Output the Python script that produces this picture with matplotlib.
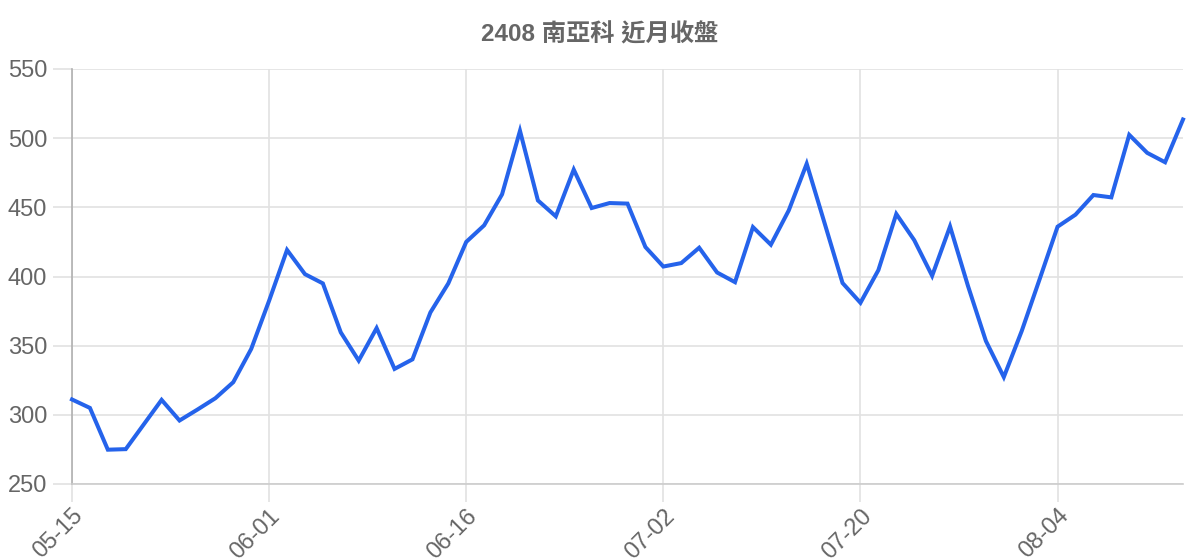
import matplotlib
matplotlib.use("Agg")
import matplotlib.pyplot as plt

title = "2408 南亞科 近月收盤"
closes = [311.1, 305.0, 274.8, 275.2, 293.0, 310.8, 295.9, 303.8, 312.0, 323.6,
          347.6, 382.5, 419.2, 401.7, 395.0, 359.6, 339.2, 362.7, 333.2, 340.1,
          374.0, 395.0, 425.0, 437.0, 459.4, 505.3, 455.0, 443.5, 477.3, 449.5,
          453.1, 452.7, 421.3, 407.2, 409.7, 420.8, 402.9, 395.9, 435.7, 423.0,
          447.8, 481.5, 438.5, 395.3, 381.0, 404.6, 445.2, 426.3, 400.5, 436.2,
          393.2, 353.4, 327.3, 360.6, 398.1, 436.0, 444.7, 458.9, 457.2, 502.4,
          489.4, 482.6, 513.5]
tick_labels = ["05-15", "06-01", "06-16", "07-02", "07-20", "08-04"]
tick_step = 11
y_ticks = [250, 300, 350, 400, 450, 500, 550]

fam = ["Liberation Sans", "Noto Sans CJK TC", "DejaVu Sans"]
plt.rcParams["font.family"] = fam

fig = plt.figure(figsize=(12, 5.6), dpi=100)
ax = fig.add_axes([72/1200, 1 - 484/560, (1183-72)/1200, (484-69)/560])

x = list(range(len(closes)))
ax.plot(x, closes, color="#2563EB", lw=2.9, solid_joinstyle="miter", clip_on=False, zorder=3)

ax.set_xlim(0, len(closes) - 1)
ax.set_ylim(y_ticks[0], y_ticks[-1])
ax.set_yticks(y_ticks)
ax.set_xticks(list(range(0, len(closes), tick_step))[:len(tick_labels)])
ax.set_xticklabels(tick_labels, rotation=45, ha="right", va="top", rotation_mode="anchor")

ax.grid(True, color="#e2e2e2", lw=1.2)
ax.tick_params(axis="y", length=14, color="#e2e2e2", width=1.2, pad=4,
               labelsize=17, labelcolor="#666666")
ax.tick_params(axis="x", length=13, color="#e2e2e2", width=1.2, pad=2,
               labelsize=17, labelcolor="#666666")
for s in ("top", "right"):
    ax.spines[s].set_visible(False)
ax.spines["left"].set_color("#b0b0b0")
ax.spines["left"].set_linewidth(1.2)
ax.spines["bottom"].set_color("#cccccc")
ax.spines["bottom"].set_linewidth(1.2)

fig.text(600/1200, 1 - 35/560, title, ha="center", va="center", fontsize=17.5,
         fontweight="bold", color="#666666", family=fam)

fig.savefig("out.png", dpi=100, facecolor="white")
